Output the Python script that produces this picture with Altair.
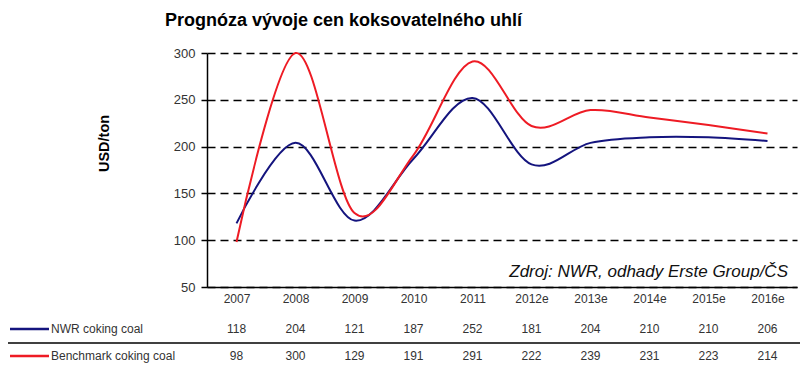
import altair as alt
import pandas as pd

years = ["2007", "2008", "2009", "2010", "2011", "2012e", "2013e", "2014e", "2015e", "2016e"]
nwr = [118, 204, 121, 187, 252, 181, 204, 210, 210, 206]
bench = [98, 300, 129, 191, 291, 222, 239, 231, 223, 214]
series_names = ["NWR coking coal", "Benchmark coking coal"]
series_colors = ["#14147e", "#ee1b24"]
y_ticks = [50, 100, 150, 200, 250, 300]
title_text = "Prognóza vývoje cen koksovatelného uhlí"
source_note = "Zdroj: NWR, odhady Erste Group/ČS"
y_title = "USD/ton"

df = pd.DataFrame({
    "year": years * 2,
    "series": [series_names[0]] * len(years) + [series_names[1]] * len(years),
    "value": nwr + bench,
})
names_df = pd.DataFrame({"series": series_names})
title_df = pd.DataFrame({"t": [title_text]})
note_df = pd.DataFrame({"t": [source_note]})

W, H = 590, 234
FONT = "Liberation Sans, Arial, sans-serif"

xscale = alt.Scale(type="point", domain=years, padding=0.5)
x_axis = alt.Axis(title=None, labelAngle=0, ticks=False, domain=True,
                  domainColor="black", domainWidth=1.5, labelFontSize=12,
                  labelColor="#333333", labelPadding=6, labelFont=FONT)
color = alt.Color("series:N", scale=alt.Scale(domain=series_names, range=series_colors), legend=None)


def row_scale():
    return alt.Scale(type="point", domain=series_names, range=[H + 42, H + 69], padding=0)


lines = alt.Chart(df).mark_line(interpolate="cardinal", strokeWidth=2).encode(
    x=alt.X("year:N", scale=xscale, sort=years, axis=x_axis),
    y=alt.Y("value:Q", scale=alt.Scale(domain=[50, 300], nice=False, zero=False),
            axis=alt.Axis(values=y_ticks, title=y_title, grid=True, gridDash=[8, 5],
                          gridColor="black", gridWidth=1.3, domainColor="black",
                          domainWidth=1.5, tickColor="black", tickSize=6, tickWidth=1.5,
                          labelPadding=6, labelFontSize=13, labelColor="#333333",
                          labelFont=FONT, titleX=-103, titleY=90, titleAngle=-90,
                          titleFontSize=14.5, titleFontWeight="bold", titleFont=FONT,
                          titleColor="black", titleAlign="center", titleBaseline="middle")),
    color=color,
)

table = alt.Chart(df).mark_text(fontSize=12, color="#333333", font=FONT).encode(
    x=alt.X("year:N", scale=xscale, sort=years, axis=x_axis),
    y=alt.Y("series:N", scale=row_scale(), axis=None),
    text="value:Q",
)

labels = alt.Chart(names_df).mark_text(align="left", fontSize=12, color="#333333", font=FONT).encode(
    x=alt.value(-156),
    y=alt.Y("series:N", scale=row_scale(), axis=None),
    text="series:N",
)

swatches = alt.Chart(names_df).mark_rule(strokeWidth=2.5).encode(
    x=alt.value(-197), x2=alt.value(-158),
    y=alt.Y("series:N", scale=row_scale(), axis=None),
    color=color,
)

separator = alt.Chart(pd.DataFrame({"k": [0]})).mark_rule(color="black", strokeWidth=1.3).encode(
    x=alt.value(-199), x2=alt.value(593), y=alt.value(H + 56)
)

title = alt.Chart(title_df).mark_text(align="left", baseline="alphabetic", fontSize=18,
                                      fontWeight="bold", font=FONT, color="black").encode(
    x=alt.value(-42), y=alt.value(-27), text="t:N"
)

note = alt.Chart(note_df).mark_text(align="right", baseline="alphabetic", fontSize=17,
                                    fontStyle="italic", font=FONT, color="#111111").encode(
    x=alt.value(581), y=alt.value(224), text="t:N"
)

chart = alt.layer(lines, table, labels, swatches, separator, title, note).resolve_scale(
    y="independent"
).properties(
    width=W, height=H,
    autosize=alt.AutoSizeParams(type="none"),
    padding={"left": 199, "top": 45, "right": 3, "bottom": 77},
).configure_view(stroke=None)

chart.save("out.html", embed_options={"renderer": "svg", "actions": False})
